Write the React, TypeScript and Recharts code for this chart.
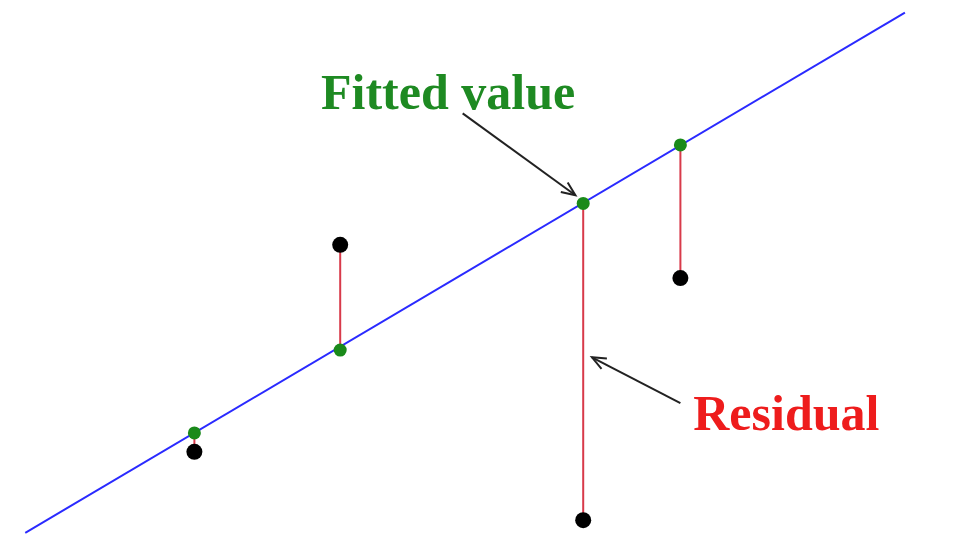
import { ComposedChart, Scatter, XAxis, YAxis, ReferenceLine, ReferenceDot } from "recharts"

const xs = [20, 35, 60, 70]
const observed = [9.8, 32.8, 2.2, 29.1]
const fitted = [11.9, 21.1, 37.4, 43.9]

// regression line end points
const lineX = [2.6, 93.1]
const lineY = [0.8, 58.6]

// annotations: label position, arrow tail, arrow head
const labels = ["Fitted value", "Residual"]
const labelColors = ["#1e8a22", "#ee1c1c"]
const labelX = [46.1, 80.9]
const labelY = [49.9, 14.2]
const arrowFrom = [[47.6, 47.4], [70, 15.2]]
const arrowTo = [[59.2, 38.3], [60.9, 20.3]]

const obsData = xs.map((x, i) => ({ x, y: observed[i] }))
const fitData = xs.map((x, i) => ({ x, y: fitted[i] }))
const lineData = lineX.map((x, i) => ({ x, y: lineY[i] }))

const Nothing = () => <g />

const Arrow = (props: any) => {
  const { x1, y1, x2, y2 } = props
  const ang = Math.atan2(y2 - y1, x2 - x1)
  const len = 15
  const spread = 0.4
  const ax = x2 - len * Math.cos(ang - spread)
  const ay = y2 - len * Math.sin(ang - spread)
  const bx = x2 - len * Math.cos(ang + spread)
  const by = y2 - len * Math.sin(ang + spread)
  return (
    <g stroke="#222" strokeWidth={2} fill="none">
      <line x1={x1} y1={y1} x2={x2} y2={y2} />
      <polyline points={`${ax},${ay} ${x2},${y2} ${bx},${by}`} />
    </g>
  )
}

export default function App() {
  return (
    <div style={{ position: "absolute", left: 0, top: 0, width: 972, height: 540, background: "#fff" }}>
      <ComposedChart width={972} height={540} margin={{ top: 0, right: 0, bottom: 0, left: 0 }}>
        <XAxis type="number" dataKey="x" domain={[0, 100]} hide />
        <YAxis type="number" dataKey="y" domain={[0, 60]} hide />
        <Scatter
          data={lineData}
          line={{ stroke: "#2a2aff", strokeWidth: 2 }}
          shape={Nothing}
          isAnimationActive={false}
        />
        {xs.map((x, i) => (
          <Scatter
            key={"r" + i}
            data={[{ x, y: observed[i] }, { x, y: fitted[i] }]}
            line={{ stroke: "#d83a4a", strokeWidth: 2 }}
            shape={Nothing}
            isAnimationActive={false}
          />
        ))}
        <Scatter
          data={fitData}
          shape={(p: any) => <circle cx={p.cx} cy={p.cy} r={6.5} fill="#1a8a1a" />}
          isAnimationActive={false}
        />
        <Scatter
          data={obsData}
          shape={(p: any) => <circle cx={p.cx} cy={p.cy} r={8} fill="#000" />}
          isAnimationActive={false}
        />
        {arrowFrom.map((f, i) => (
          <ReferenceLine
            key={"a" + i}
            segment={[{ x: f[0], y: f[1] }, { x: arrowTo[i][0], y: arrowTo[i][1] }]}
            shape={Arrow}
            ifOverflow="visible"
          />
        ))}
        {labels.map((t, i) => (
          <ReferenceDot
            key={t}
            x={labelX[i]}
            y={labelY[i]}
            r={0}
            fill="none"
            stroke="none"
            ifOverflow="visible"
            label={{
              value: t,
              position: "center",
              fill: labelColors[i],
              fontSize: 50,
              fontWeight: "bold",
              fontFamily: "Liberation Serif",
            }}
          />
        ))}
      </ComposedChart>
    </div>
  )
}
